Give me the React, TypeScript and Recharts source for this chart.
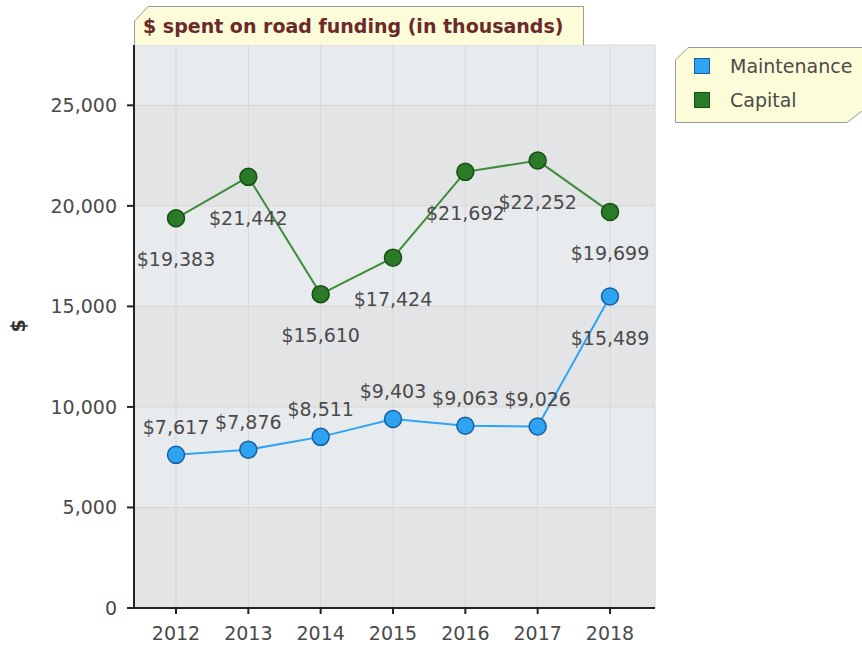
import React from 'react';
import { LineChart, Line, XAxis, YAxis, CartesianGrid, LabelList } from 'recharts';

const years = ['2012', '2013', '2014', '2015', '2016', '2017', '2018'];
const maintenance = [7617, 7876, 8511, 9403, 9063, 9026, 15489];
const capital = [19383, 21442, 15610, 17424, 21692, 22252, 19699];
const yTicks = [0, 5000, 10000, 15000, 20000, 25000];

const chartTitle = '$ spent on road funding (in thousands)';
const seriesNames = ['Maintenance', 'Capital'];

const FONT = '"DejaVu Sans", Verdana, sans-serif';
const TEXT = '#4a4a4a';

const blue = { fill: '#2ea3f2', stroke: '#16609e', line: '#2fa4f4' };
const green = { fill: '#2a7a27', stroke: '#154f14', line: '#3d8d3a' };

const data = years.map((year, i) => ({
  year,
  maintenance: maintenance[i],
  capital: capital[i],
}));

const fmt = (v: number) => '$' + v.toLocaleString('en-US');

// label above the point, or below it
const makeLabel = (below: (i: number) => boolean) => (props: any) => {
  const { x, y, value, index } = props;
  const dy = below(index) ? 48 : -21;
  return (
    <text x={x} y={y + dy} textAnchor="middle" fill={TEXT} fontSize={19} fontFamily={FONT}>
      {fmt(value)}
    </text>
  );
};

const TitleBox = () => (
  <svg width={862} height={60} style={{ position: 'absolute', left: 0, top: 0 }}>
    <path d="M134.5,45 L134.5,21 L148,6.5 L583.5,6.5 L583.5,45" fill="#fdfcd8" stroke="#9a9a9a" />
    <text x={143} y={33} fill="#6b2a2a" fontWeight="bold" fontSize={19} fontFamily={FONT}>
      {chartTitle}
    </text>
  </svg>
);

const LegendBox = () => (
  <svg width={200} height={90} style={{ position: 'absolute', left: 670, top: 42 }}>
    <path d="M5.5,18 L18,5.5 L200,5.5 L200,63 L177,80.5 L5.5,80.5 Z" fill="#fdfcd8" stroke="#9a9a9a" />
    {seriesNames.map((name, i) => {
      const c = i === 0 ? blue : green;
      return (
        <g key={name}>
          <rect x={24.5} y={16.5 + i * 34} width={15} height={15} fill={c.fill} stroke={c.stroke} />
          <text x={60} y={31 + i * 34} fill={TEXT} fontSize={19} fontFamily={FONT}>
            {name}
          </text>
        </g>
      );
    })}
  </svg>
);

export default function App() {
  const tickStyle = { fill: TEXT, fontSize: 19, fontFamily: FONT };
  return (
    <div style={{ position: 'absolute', left: 0, top: 0, width: 862, height: 645, background: '#fff' }}>
      <LineChart width={862} height={645} data={data} margin={{ top: 45, right: 207, bottom: 0, left: 0 }}>
        <CartesianGrid stroke="#d6d6d6" horizontalFill={['#e8ebee', '#e3e4e6']} />
        <XAxis
          dataKey="year"
          padding={{ left: 42, right: 45 }}
          tick={tickStyle}
          tickSize={6}
          tickMargin={13}
          tickLine={{ stroke: '#222', strokeWidth: 2 }}
          axisLine={{ stroke: '#222', strokeWidth: 2 }}
          height={37}
        />
        <XAxis xAxisId="top" orientation="top" dataKey="year" tick={false} tickLine={false} height={0} axisLine={{ stroke: '#9a9a9a' }} />
        <YAxis
          domain={[0, 28000]}
          ticks={yTicks}
          width={134}
          tick={tickStyle}
          tickSize={7}
          tickMargin={10}
          tickFormatter={(v: number) => v.toLocaleString('en-US')}
          tickLine={{ stroke: '#222', strokeWidth: 2 }}
          axisLine={{ stroke: '#222', strokeWidth: 2 }}
          label={{ value: '$', angle: -90, position: 'insideLeft', offset: 18, dy: 6, fill: '#333', fontSize: 19, fontWeight: 'bold', fontFamily: FONT }}
        />
        <YAxis yAxisId="right" orientation="right" domain={[0, 28000]} tick={false} tickLine={false} width={0} axisLine={{ stroke: '#555', strokeWidth: 1.5 }} />
        <Line
          dataKey="capital"
          stroke={green.line}
          strokeWidth={2}
          dot={{ r: 8.5, fill: green.fill, stroke: green.stroke, strokeWidth: 1.5 }}
          isAnimationActive={false}
        >
          <LabelList dataKey="capital" content={makeLabel(() => true)} />
        </Line>
        <Line
          dataKey="maintenance"
          stroke={blue.line}
          strokeWidth={2}
          dot={{ r: 8.5, fill: blue.fill, stroke: blue.stroke, strokeWidth: 1.5 }}
          isAnimationActive={false}
        >
          <LabelList dataKey="maintenance" content={makeLabel((i) => i === years.length - 1)} />
        </Line>
      </LineChart>
      <TitleBox />
      <LegendBox />
    </div>
  );
}
